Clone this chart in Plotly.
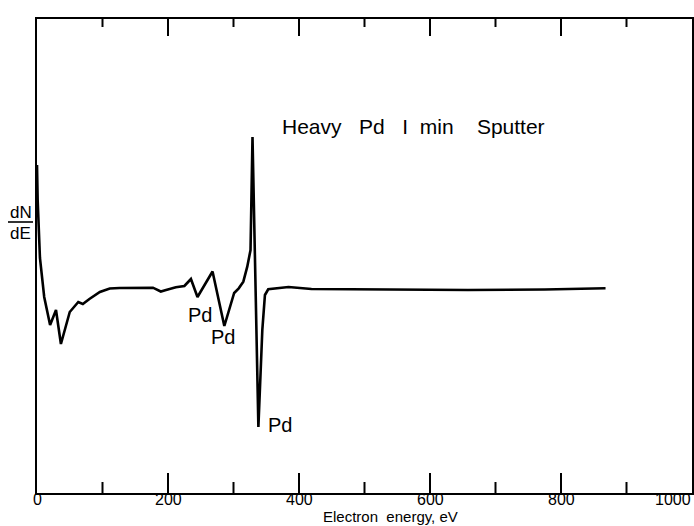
import plotly.graph_objects as go

# Electron energy (eV) and dN/dE (arbitrary units, baseline = 0)
energy = [0, 1, 4.5, 11, 20, 29, 36.5, 50, 63, 70, 80, 96, 111, 126, 177, 189, 197,
          212, 225, 235, 245, 268, 286, 301, 308, 315, 321, 326, 329, 338, 344, 348,
          353, 374, 384, 419, 521, 658, 775, 868]
dnde = [12.3, 8.8, 3.0, -0.9, -3.7, -2.2, -5.6, -2.4, -1.4, -1.6, -1.1, -0.4, -0.05,
        0.0, 0.03, -0.35, -0.2, 0.07, 0.2, 0.9, -0.9, 1.65, -3.8, -0.5, -0.03, 0.63,
        2.13, 3.8, 15.1, -13.9, -4.2, -0.7, -0.13, 0.07, 0.1, -0.1, -0.13, -0.2,
        -0.15, -0.03]

tick_vals = [0, 200, 400, 600, 800, 1000]
tick_text = ["0", "200", "400", "600", "800", "1000"]
minor_vals = [100, 300, 500, 700, 900]

peak_labels = ["Pd", "Pd", "Pd"]
peak_label_x = [249, 284, 371]
peak_label_y = [-2.7, -4.9, -13.7]

NB = "\u00a0"
title_text = "Heavy" + NB * 3 + "Pd" + NB * 3 + "I" + NB * 2 + "min" + NB * 4 + "Sputter"
xlabel = "Electron" + NB * 2 + "energy, eV"

FONT = "Liberation Sans"

W, H = 694, 526
ML, MR, MT, MB = 37, 2, 19, 33
YMIN, YMAX = -20.5, 26.9
pw = W - ML - MR
ph = H - MT - MB


def py_to_paper(py):
    return (H - MB - py) / ph


fig = go.Figure()
fig.add_trace(go.Scatter(x=energy, y=dnde, mode="lines",
                         line=dict(color="black", width=2.6, shape="linear"),
                         hoverinfo="skip", showlegend=False))

annotations = []
for t, xv, yv in zip(peak_labels, peak_label_x, peak_label_y):
    annotations.append(dict(x=xv, y=yv, xref="x", yref="y", text=t, showarrow=False,
                            font=dict(family=FONT, size=20, color="black"),
                            xanchor="center", yanchor="middle"))
annotations.append(dict(x=371, y=16.2, xref="x", yref="y", text=title_text,
                        showarrow=False, xanchor="left", yanchor="middle",
                        font=dict(family=FONT, size=21, color="black")))

# tick labels
for i, (tv, tt) in enumerate(zip(tick_vals, tick_text)):
    last = i == len(tick_vals) - 1
    annotations.append(dict(x=tv, y=py_to_paper(490), xref="x", yref="paper", text=tt,
                            showarrow=False, xanchor="right" if last else "center",
                            yanchor="top", borderpad=0,
                            font=dict(family=FONT, size=16, color="black")))

# axis title
annotations.append(dict(x=(391 - ML) / pw, y=py_to_paper(526),
                        xref="paper", yref="paper", text=xlabel, showarrow=False,
                        xanchor="center", yanchor="bottom", borderpad=0,
                        font=dict(family=FONT, size=15, color="black")))
# dN/dE fraction
annotations.append(dict(x=(20.5 - ML) / pw, y=py_to_paper(212), xref="paper", yref="paper",
                        text="dN", showarrow=False, xanchor="center", yanchor="middle",
                        font=dict(family=FONT, size=17, color="black")))
annotations.append(dict(x=(20.5 - ML) / pw, y=py_to_paper(233), xref="paper", yref="paper",
                        text="dE", showarrow=False, xanchor="center", yanchor="middle",
                        font=dict(family=FONT, size=17, color="black")))

shapes = [dict(type="line", xref="paper", yref="paper",
               x0=(8 - ML) / pw, x1=(33 - ML) / pw,
               y0=py_to_paper(222), y1=py_to_paper(222),
               line=dict(color="black", width=1.6))]

# tick marks (inside, bottom and top)
for tv in tick_vals[1:-1]:
    shapes.append(dict(type="line", xref="x", yref="paper", x0=tv, x1=tv,
                       y0=0, y1=20 / ph, line=dict(color="black", width=2)))
    shapes.append(dict(type="line", xref="x", yref="paper", x0=tv, x1=tv,
                       y0=1, y1=1 - 17 / ph, line=dict(color="black", width=2)))
for tv in minor_vals:
    shapes.append(dict(type="line", xref="x", yref="paper", x0=tv, x1=tv,
                       y0=0, y1=11 / ph, line=dict(color="black", width=2)))
    shapes.append(dict(type="line", xref="x", yref="paper", x0=tv, x1=tv,
                       y0=1, y1=1 - 8 / ph, line=dict(color="black", width=2)))

fig.update_layout(
    width=W, height=H,
    margin=dict(l=ML, r=MR, t=MT, b=MB, autoexpand=False),
    paper_bgcolor="white", plot_bgcolor="white",
    showlegend=False,
    annotations=annotations,
    shapes=shapes,
    xaxis=dict(range=[0, 1000], showgrid=False, zeroline=False,
               showline=True, linecolor="black", linewidth=2, mirror=True,
               ticks="", showticklabels=False, fixedrange=True),
    yaxis=dict(range=[YMIN, YMAX], showgrid=False, zeroline=False,
               showline=True, linecolor="black", linewidth=2, mirror=True,
               ticks="", showticklabels=False, fixedrange=True),
)

fig.write_html("out.html")
